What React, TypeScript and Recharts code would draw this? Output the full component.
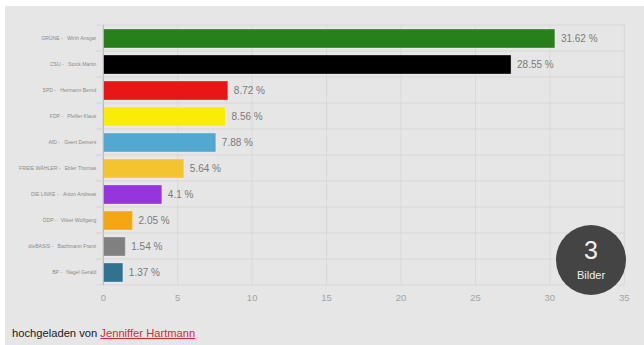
import React from "react";
import { ComposedChart, Bar, Scatter, XAxis, YAxis, CartesianGrid, Cell, LabelList } from "recharts";

// Election result per candidate, in percent
const candidates = [
  "GRÜNE -\u00a0\u00a0\u00a0Wirth Ansgar",
  "CSU -\u00a0\u00a0\u00a0Stock Martin",
  "SPD -\u00a0\u00a0\u00a0Hermann Bernd",
  "FDP -\u00a0\u00a0\u00a0Pfeffer Klaus",
  "AfD -\u00a0\u00a0\u00a0Geert Demers",
  "FREIE WÄHLER -\u00a0\u00a0\u00a0Ebler Thomas",
  "DIE LINKE -\u00a0\u00a0\u00a0Anton Andreas",
  "ÖDP -\u00a0\u00a0\u00a0Vilser Wolfgang",
  "dieBASIS -\u00a0\u00a0\u00a0Bachmann Franz",
  "BP -\u00a0\u00a0\u00a0Nagel Gerald",
];
const shares = [31.62, 28.55, 8.72, 8.56, 7.88, 5.64, 4.1, 2.05, 1.54, 1.37];
const partyColors = [
  "#28801c", "#000000", "#e61717", "#f9ec05", "#52a8d1",
  "#f4c430", "#9535de", "#f3a712", "#808080", "#2f7391",
];
const scaleTicks = [0, 5, 10, 15, 20, 25, 30, 35];
const bandEdges = [0, 1, 2, 3, 4, 5, 6, 7, 8, 9, 10];

const rows = candidates.map((name, i) => ({ name, share: shares[i] }));
// Empty anchor series that keeps the percent scale axis live
const gridAnchors = bandEdges.map((edge) => ({ tickValue: 0, edge }));
const font = "'Liberation Sans', Arial, sans-serif";
const gridColor = "#d8d8d8";

// Candidate name, plus the short stubs that carry the band edges past the axis
function NameTick({ x, y, height, payload }: any) {
  const halfBand = height / candidates.length / 2;
  return (
    <g>
      <line x1={x} x2={x + 7} y1={y - halfBand} y2={y - halfBand} stroke={gridColor} />
      <line x1={x} x2={x + 7} y1={y + halfBand} y2={y + halfBand} stroke={gridColor} />
      <text x={x} y={y} dy={1.7} textAnchor="end" fontSize={5.1} fill="#8a8a8a" fontFamily={font}>
        {payload.value}
      </text>
    </g>
  );
}

export default function App() {
  return (
    <div style={{ position: "fixed", left: 0, top: 0, width: 644, height: 345, background: "#fff", overflow: "hidden", fontFamily: font }}>
      <div style={{ position: "absolute", left: 5, top: 6, right: 0, bottom: 0, background: "#e6e6e6" }} />
      <div style={{ position: "absolute", left: 0, top: 0 }}>
        <ComposedChart
          width={644}
          height={345}
          data={rows}
          layout="vertical"
          margin={{ top: 25, right: 19.7, bottom: 40, left: 0 }}
        >
          <CartesianGrid
            xAxisId="scale"
            yAxisId="names"
            stroke={gridColor}
            strokeWidth={1}
            horizontalCoordinatesGenerator={({ offset }: any) =>
              bandEdges.map((edge) => offset.top + (offset.height * edge) / candidates.length)
            }
          />
          <XAxis
            xAxisId="scale"
            type="number"
            dataKey="tickValue"
            domain={[0, 35]}
            ticks={scaleTicks}
            axisLine={false}
            tickLine={false}
            tickMargin={3}
            height={20}
            tick={{ fontSize: 9.5, fill: "#a3a3a3", fontFamily: font }}
          />
          <XAxis xAxisId="bars" type="number" domain={[0, 36.48]} height={0} hide />
          <YAxis yAxisId="bands" type="number" dataKey="edge" domain={[0, 10]} width={0} hide />
          <YAxis
            yAxisId="names"
            type="category"
            dataKey="name"
            width={103.3}
            interval={0}
            tickLine={false}
            tickSize={0}
            tickMargin={7}
            axisLine={{ stroke: "#b4b4b4" }}
            tick={NameTick}
          />
          <Scatter
            xAxisId="scale"
            yAxisId="bands"
            data={gridAnchors}
            fill="none"
            shape={() => <g />}
            isAnimationActive={false}
          />
          <Bar
            xAxisId="bars"
            yAxisId="names"
            dataKey="share"
            barSize={19}
            isAnimationActive={false}
          >
            {rows.map((row, i) => (
              <Cell key={row.name} fill={partyColors[i]} stroke="rgba(255,255,255,0.3)" strokeWidth={1} />
            ))}
            <LabelList
              dataKey="share"
              position="right"
              offset={6}
              formatter={(v: number) => `${v} %`}
              style={{ fontSize: 10, fill: "#7a7a7a", fontFamily: font }}
            />
          </Bar>
        </ComposedChart>
      </div>

      {/* Gallery badge */}
      <div
        style={{
          position: "absolute", left: 556, top: 225, width: 70, height: 70, borderRadius: "50%",
          background: "#444444", color: "#f0f0f0", textAlign: "center",
        }}
      >
        <div style={{ fontSize: 25, lineHeight: "28px", marginTop: 11 }}>3</div>
        <div style={{ fontSize: 11, lineHeight: "12px", marginTop: 5 }}>Bilder</div>
      </div>

      <div style={{ position: "absolute", left: 12, top: 326, fontSize: 11.2, lineHeight: "14px", color: "#1a1a1a", whiteSpace: "nowrap" }}>
        hochgeladen von <span style={{ color: "#d8283a", textDecoration: "underline" }}>Jenniffer Hartmann</span>
      </div>
    </div>
  );
}
